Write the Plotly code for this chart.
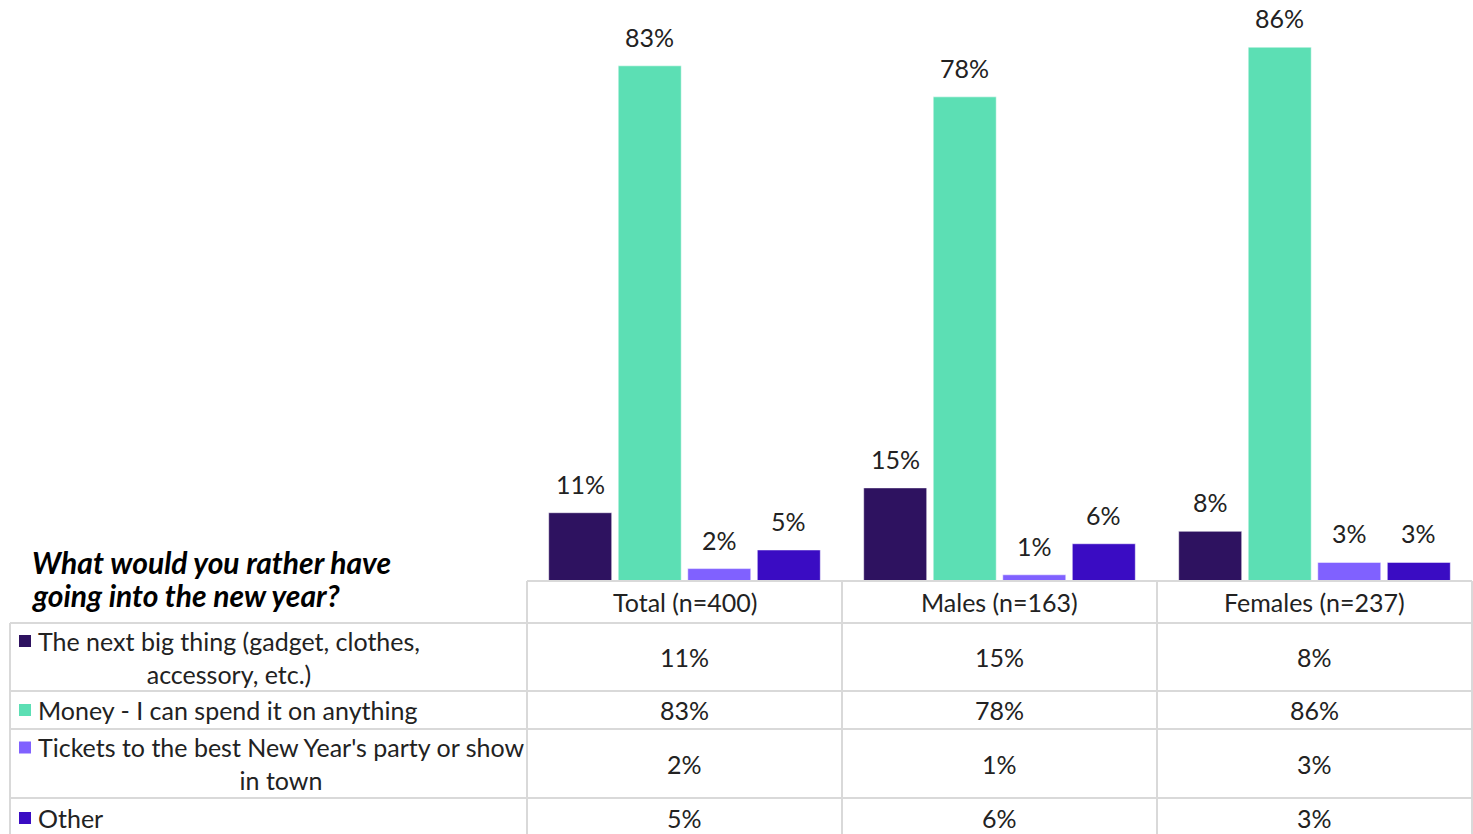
import plotly.graph_objects as go

categories = ["Total (n=400)", "Males (n=163)", "Females (n=237)"]
series_names = [
    "The next big thing (gadget, clothes,<br>accessory, etc.)",
    "Money - I can spend it on anything",
    "Tickets to the best New Year's party or show<br>in town",
    "Other",
]
next_big_thing = [11, 15, 8]
money = [83, 78, 86]
tickets = [2, 1, 3]
other = [5, 6, 3]
series_values = [next_big_thing, money, tickets, other]
colors = ["#2E1260", "#5CDFB4", "#8061FF", "#3A0CC3"]
title_lines = ["What would you rather have", "going into the new year?"]

W, H = 1473, 834
# plot area in window px
PL, PR, PT, PB = 527, 1472, 0, 581
FONT = "Lato"
TXT = "#222222"
GRID = "#D9D9D9"
FS = 25
BARGAP = 0.117
GROUPGAP = 0.094


def xp(px):
    return (px - PL) / (PR - PL)


def yp(py):
    return (PB - py) / (PB - PT)


fig = go.Figure()
annotations = []
n_series = len(series_values)
slot = (1 - BARGAP) / n_series
for s, (name, vals, col) in enumerate(zip(series_names, series_values, colors)):
    fig.add_trace(go.Bar(
        x=list(range(len(categories))), y=vals, name=name,
        marker=dict(color=col, line=dict(color="rgba(255,255,255,0.5)", width=1)),
        showlegend=False, hoverinfo="skip",
    ))
    for i, v in enumerate(vals):
        bx = i - (1 - BARGAP) / 2 + (s + 0.5) * slot
        annotations.append(dict(xref="x", yref="y", x=bx, y=v, text=f"{v}%",
                                showarrow=False, xanchor="center", yanchor="bottom", yshift=12,
                                font=dict(family=FONT, size=FS, color=TXT)))

shapes = []
line = dict(color=GRID, width=2)

col_x = [PL, 842, 1157, PR]
row_y = [581, 623, 691, 729, 798, 845]
left_x = 10

shapes.append(dict(type="line", xref="paper", yref="paper", x0=xp(PL), x1=xp(PR),
                   y0=yp(row_y[0]), y1=yp(row_y[0]), line=line))
for yy in row_y[1:5]:
    shapes.append(dict(type="line", xref="paper", yref="paper", x0=xp(left_x), x1=xp(PR),
                       y0=yp(yy), y1=yp(yy), line=line))
for xx in col_x:
    shapes.append(dict(type="line", xref="paper", yref="paper", x0=xp(xx), x1=xp(xx),
                       y0=yp(row_y[0]), y1=yp(row_y[-1]), line=line))
shapes.append(dict(type="line", xref="paper", yref="paper", x0=xp(left_x), x1=xp(left_x),
                   y0=yp(row_y[1]), y1=yp(row_y[-1]), line=line))

for i, cat in enumerate(categories):
    cx = (col_x[i] + col_x[i + 1]) / 2
    cy = (row_y[0] + row_y[1]) / 2
    annotations.append(dict(xref="paper", yref="paper", x=xp(cx), y=yp(cy), text=cat,
                            showarrow=False, xanchor="center", yanchor="middle",
                            font=dict(family=FONT, size=FS, color=TXT)))

for r, (name, vals, col) in enumerate(zip(series_names, series_values, colors)):
    top, bot = row_y[r + 1], row_y[r + 2]
    if r == 3:
        bot = 838
    cy = (top + bot) / 2
    lines = name.count("<br>") + 1
    first_line_y = cy - (lines - 1) * 16
    shapes.append(dict(type="rect", xref="paper", yref="paper",
                       x0=xp(19), x1=xp(31), y0=yp(first_line_y - 6), y1=yp(first_line_y + 6),
                       fillcolor=col, line=dict(width=0)))
    annotations.append(dict(xref="paper", yref="paper", x=xp(36), y=yp(cy), text=name,
                            showarrow=False, xanchor="left", yanchor="middle", align="center",
                            font=dict(family=FONT, size=FS, color=TXT)))
    for i, v in enumerate(vals):
        cx = (col_x[i] + col_x[i + 1]) / 2
        annotations.append(dict(xref="paper", yref="paper", x=xp(cx), y=yp(cy), text=f"{v}%",
                                showarrow=False, xanchor="center", yanchor="middle",
                                font=dict(family=FONT, size=FS, color=TXT)))

for k, tl in enumerate(title_lines):
    annotations.append(dict(xref="paper", yref="paper", x=xp(30), y=yp(562 + 33 * k),
                            text=f"<b><i>{tl}</i></b>",
                            showarrow=False, xanchor="left", yanchor="middle", align="left",
                            font=dict(family=FONT, size=30, color="#000000", weight=900)))

fig.update_layout(
    width=W, height=H,
    margin=dict(l=PL, r=W - PR, t=PT, b=H - PB),
    paper_bgcolor="white", plot_bgcolor="white",
    barmode="group", bargap=BARGAP, bargroupgap=GROUPGAP,
    xaxis=dict(showticklabels=False, showgrid=False, zeroline=False, showline=False, ticks="",
               range=[-0.5, len(categories) - 0.5]),
    yaxis=dict(range=[0, (PB - PT) / 6.207], visible=False),
    shapes=shapes, annotations=annotations,
)

fig.write_html(
    "out.html",
    config={"displayModeBar": False},
    post_script="document.body.style.margin='0';document.body.style.overflow='hidden';",
)
